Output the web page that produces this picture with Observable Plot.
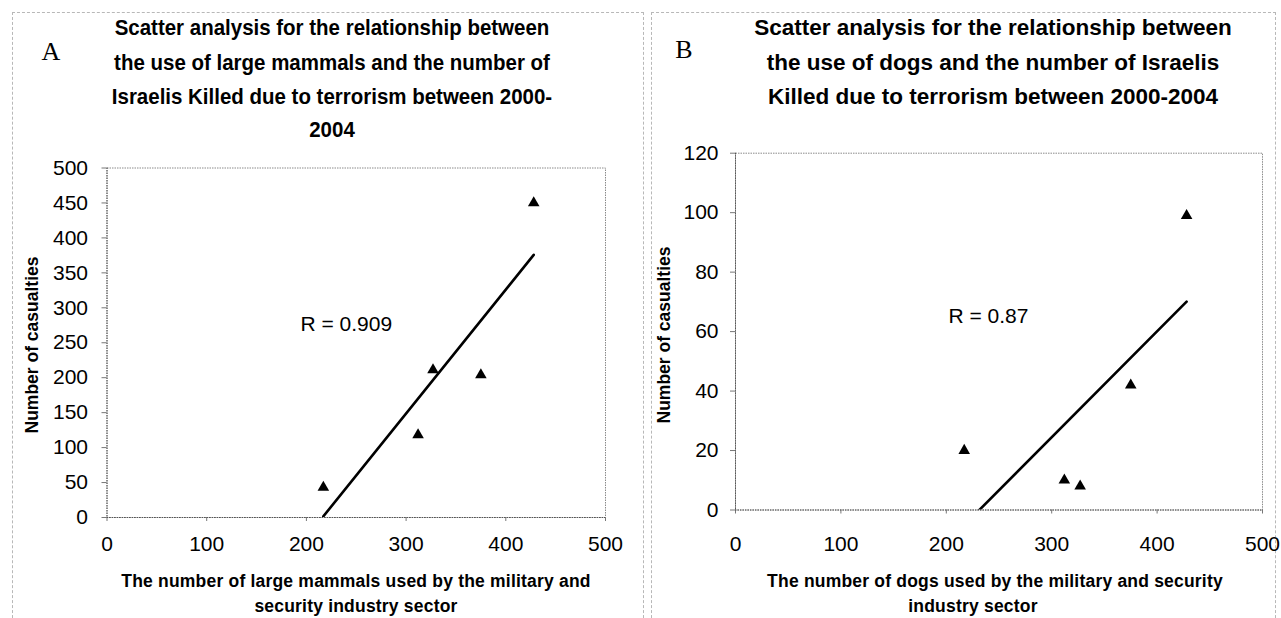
<!DOCTYPE html>
<html><head><meta charset="utf-8">
<script src="https://cdn.jsdelivr.net/npm/d3@7"></script>
<script src="https://cdn.jsdelivr.net/npm/@observablehq/plot@0.6"></script>
<style>
body{margin:0;background:#fff;}
#wrap{position:relative;width:1281px;height:618px;overflow:hidden;font-family:"Liberation Sans",Arial,sans-serif;color:#000;}
.frame{position:absolute;border:1px dashed #b8b8b8;border-bottom:none;}
.t{position:absolute;white-space:nowrap;transform:translate(-50%,-50%);line-height:1;}
.title{font-weight:bold;}
.xt{font-weight:bold;font-size:17.5px;letter-spacing:0.2px;}
.yt{font-weight:bold;font-size:17.5px;transform:translate(-50%,-50%) rotate(-90deg);}
.lab{font-family:"Liberation Serif","Times New Roman",serif;font-size:26px;}
.plot{position:absolute;top:0;}
</style></head><body><div id="wrap">
<div class="frame" style="left:12px;top:12px;width:630px;height:620px"></div>
<div class="frame" style="left:651px;top:12px;width:623px;height:620px"></div>
</div>
<script>
// ---- data ----
const mammalsUsed      = [217, 312, 327, 375, 428];
const mammalCasualties = [43, 118, 211, 204, 450];
const dogsUsed         = [217, 312, 327, 375, 428];
const dogCasualties    = [20, 10, 8, 42, 99];
const xTicks  = [0, 100, 200, 300, 400, 500];
const yTicksA = [0, 50, 100, 150, 200, 250, 300, 350, 400, 450, 500];
const yTicksB = [0, 20, 40, 60, 80, 100, 120];
const rLabelA = "R = 0.909";
const rLabelB = "R = 0.87";
const titleA = ["Scatter analysis for the relationship between", "the use of large mammals and the number of", "Israelis Killed due to terrorism between 2000-", "2004"];
const titleB = ["Scatter analysis for the relationship between", "the use of dogs and the number of Israelis", " Killed due to terrorism between 2000-2004"];
const xTitleA = ["The number of large mammals used by the military and", "security industry sector"];
const xTitleB = ["The number of dogs used by the military and security", "industry sector"];
const yTitle = "Number of casualties";

const wrap = document.getElementById("wrap");
function addText(txt, x, y, cls, extra) {
  const d = document.createElement("div");
  d.className = "t " + cls;
  d.textContent = txt;
  d.style.left = x + "px"; d.style.top = y + "px";
  if (extra) Object.assign(d.style, extra);
  wrap.appendChild(d);
}

function panel(xs, ys, yTicks, yMax, rLabel, rPos, opts) {
  const data = xs.map((x, i) => ({x, y: ys[i]}));
  const p = Plot.plot({
    width: opts.width, height: 618,
    marginLeft: opts.ml, marginRight: opts.mr, marginTop: opts.mt, marginBottom: opts.mb,
    style: {fontFamily: "Liberation Sans, Arial, sans-serif", fontSize: "21px", color: "#000", background: "transparent", overflow: "visible"},
    x: {domain: [0, 500]},
    y: {domain: [0, yMax]},
    marks: [
      Plot.frame({stroke: "#8a8a8a", strokeDasharray: "1.5,1"}),
      Plot.axisX({ticks: xTicks, tickSize: 4, tickPadding: opts.xpad, label: null, stroke: "#777", fill: "#000", tickFormat: d => String(d)}),
      Plot.axisY({ticks: yTicks, tickSize: 5, tickPadding: opts.ypad, label: null, stroke: "#777", fill: "#000", tickFormat: d => String(d)}),
      Plot.ruleY([0], {stroke: "#555", strokeDasharray: "1.5,1"}),
      Plot.ruleX([0], {stroke: "#555", strokeDasharray: "1.5,1"}),
      Plot.linearRegressionY(data, {x: "x", y: "y", ci: 0, stroke: "#000", strokeWidth: 2.6, clip: true}),
      Plot.dot(data, {x: "x", y: "y", symbol: "triangle", fill: "#000", r: 4.3}),
      Plot.text([rLabel], {x: () => rPos[0], y: () => rPos[1], text: d => d, textAnchor: "start", fontSize: 21, fill: "#000"})
    ]
  });
  p.classList.add("plot");
  p.style.left = opts.left + "px";
  wrap.appendChild(p);
}

panel(mammalsUsed, mammalCasualties, yTicksA, 500, rLabelA, [194, 277],
  {left: 0, width: 643, ml: 106.5, mr: 38, mt: 167.5, mb: 101, xpad: 14.5, ypad: 14});
panel(dogsUsed, dogCasualties, yTicksB, 120, rLabelB, [202, 65],
  {left: 645, width: 636, ml: 90, mr: 19, mt: 152.7, mb: 108.5, xpad: 22, ypad: 12});

// titles
const tyA = [28, 63, 97, 130];
titleA.forEach((s, i) => addText(s, 332, tyA[i], "title", {fontSize: "22.5px", transform: "translate(-50%,-50%) scaleX(0.91)"}));
titleB.forEach((s, i) => addText(s, 993, tyA[i], "title", {fontSize: "22.5px"}));
addText("A", 51, 52, "lab");
addText("B", 684, 50, "lab");
addText(xTitleA[0], 356, 582, "xt");
addText(xTitleA[1], 356, 607, "xt");
addText(xTitleB[0], 995, 582, "xt");
addText(xTitleB[1], 973, 607, "xt");
addText(yTitle, 33, 345, "yt");
addText(yTitle, 665, 335, "yt");
</script>
</body></html>
